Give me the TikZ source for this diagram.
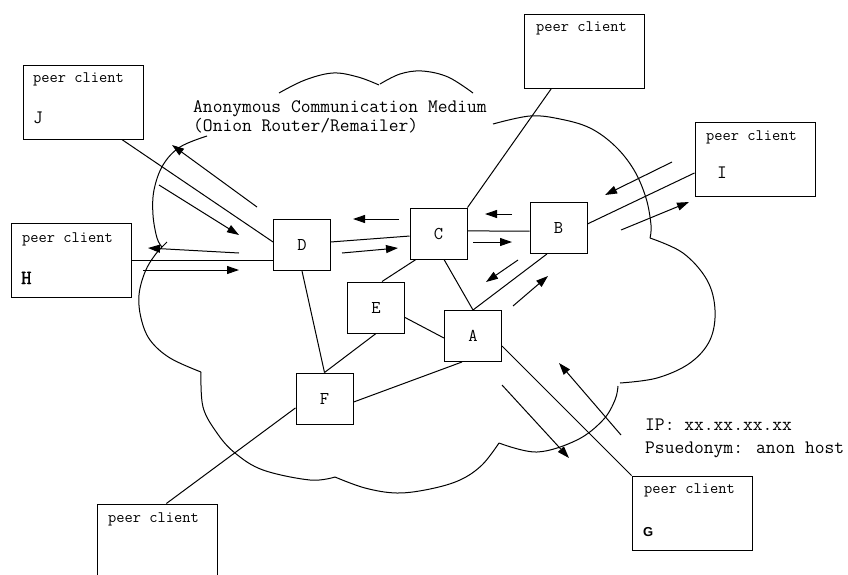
\documentclass[tikz,border=0pt]{standalone}
\usepackage{fontspec}
\newfontfamily\labelsans{Liberation Sans}
\newfontfamily\monobold[FakeBold=2]{Latin Modern Mono}
\usetikzlibrary{arrows.meta,calc}

\begin{document}
\begin{tikzpicture}[x=1pt,y=-1pt,
  client/.style={draw, line width=1pt, minimum width=120pt, minimum height=74pt, inner sep=0pt},
  router/.style={draw, line width=1pt, minimum width=57pt, minimum height=51pt, inner sep=0pt,
                 font=\ttfamily\fontsize{18}{20}\selectfont},
  link/.style={line width=1pt},
  flow/.style={line width=1pt, -{Triangle[length=12pt,width=8pt]}},
  cloudarc/.style={line width=1pt},
  small/.style={font=\ttfamily\fontsize{16}{18}\selectfont, inner sep=0pt, anchor=base west},
  big/.style={font=\ttfamily\fontsize{19}{22}\selectfont, inner sep=0pt, anchor=base west},
]
\useasboundingbox (0,0) rectangle (848,574);
\clip (0,0) rectangle (848,574);

% ---- cloud outline (separate arcs) ----
\draw[cloudarc] plot[smooth,tension=0.6] coordinates {(207,136) (180,147) (163,165) (154,190) (153,215) (157,238) (162,247)};
\draw[cloudarc] plot[smooth,tension=0.6] coordinates {(167,242) (155,255) (145,272) (139,295) (141,318) (150,340) (170,358) (201,372)};
\draw[cloudarc] plot[smooth,tension=0.6] coordinates {(201,372) (203,407) (217,433) (235,453) (263,470) (310,480) (335,477)};
\draw[cloudarc] plot[smooth,tension=0.6] coordinates {(335,477) (365,488) (397,493) (430,489) (460,480) (482,465) (499,443)};
\draw[cloudarc] plot[smooth,tension=0.6] coordinates {(499,443) (537,452) (577,440) (603,420) (615,400) (618,386)};
\draw[cloudarc] plot[smooth,tension=0.6] coordinates {(650,238) (683,253) (707,280) (715,310) (710,340) (690,363) (657,378) (620,383)};
\draw[cloudarc] plot[smooth,tension=0.6] coordinates {(493,124) (530,116) (560,119) (590,128) (615,146) (634,170) (646,198) (651,225) (650,238)};
\draw[cloudarc] plot[smooth,tension=0.6] coordinates {(279,93) (305,80) (333,73) (358,77) (379,85)};
\draw[cloudarc] plot[smooth,tension=0.6] coordinates {(380,84) (400,74) (422,71) (448,77) (473,93)};

% ---- peer clients ----
\node[client] (J) at (83,102) {};
\node[small] (Jp) at (33,82) {peer client};
\node[big] (Jl) at (33,123) {J};

\node[client] (H) at (71,260.5) {};
\node[small] (Hp) at (22,242) {peer client};
\node[big, font=\monobold\fontsize{20}{22}\selectfont] (Hl) at (21,284) {H};

\node[client] (K) at (584,51) {};
\node[small] (Kp) at (536,31) {peer client};

\node[client] (I) at (755,159) {};
\node[small] (Ip) at (706,140) {peer client};
\node[big] (Il) at (717,178) {I};

\node[client] (G) at (692,513) {};
\node[small] (Gp) at (644,493) {peer client};
\node[small, font=\labelsans\fontsize{13}{15}\selectfont\bfseries] (Gl) at (643,536) {G};

\node[client] (L) at (157,541) {};
\node[small] (Lp) at (108,522) {peer client};

% ---- onion routers ----
\node[router] (D) at (302,245) {D};
\node[router] (C) at (438.5,233.5) {C};
\node[router] (B) at (558.5,228) {B};
\node[router] (E) at (376,307.5) {E};
\node[router] (A) at (473,336) {A};
\node[router] (F) at (324.5,398.5) {F};

% ---- texts ----
\node[big] (medium1) at (193,112) {Anonymous Communication Medium};
\node[big] (medium2) at (193,131) {(Onion Router/Remailer)};
\node[big] (ip) at (645,430) {IP: xx.xx.xx.xx};
\node[big] (pseudo) at (645,453) {Psuedonym: anon host};

% ---- links ----
\draw[link] (J.-44) -- (D.174);
\draw[link] (H.east) -- (H.east -| D.west);
\draw[link] (D.6) -- (C.185);
\draw[link] (C.5) -- (B.186);
\draw[link] (C.north east) -- (K.-131);
\draw[link] (C.-131) -- (E.77);
\draw[link] (C.-78) -- (A.north);
\draw[link] (B.-114) -- (A.north);
\draw[link] (B.8) -- (I.-167);
\draw[link] (D.south) -- (F.north);
\draw[link] (E.south) -- (F.north);
\draw[link] (E.-19) -- (A.184);
\draw[link] (A.-113) -- (F.-7);
\draw[link] (A.-19) -- (G.north west);
\draw[link] (F.-162) -- (L.76);

% ---- message flows ----
\foreach \n/\ax/\ay/\bx/\by in {
  1/257/207/172/145, 2/159/185/239/235, 3/239/253/148/248, 4/143/270/239/270,
  5/399/219/353/219, 6/342/253/398/248, 7/512/214/485/214, 8/473/242/512/242,
  9/518/260/486/282, 10/513/306/548/276, 11/672/162/605/195, 12/621/230/689/202,
  13/621/435/559/363, 14/502/385/569/458} {
  \coordinate (f\n a) at (\ax,\ay);
  \coordinate (f\n b) at (\bx,\by);
  \draw[flow] (f\n a) -- (f\n b);
}
\end{tikzpicture}
\end{document}
